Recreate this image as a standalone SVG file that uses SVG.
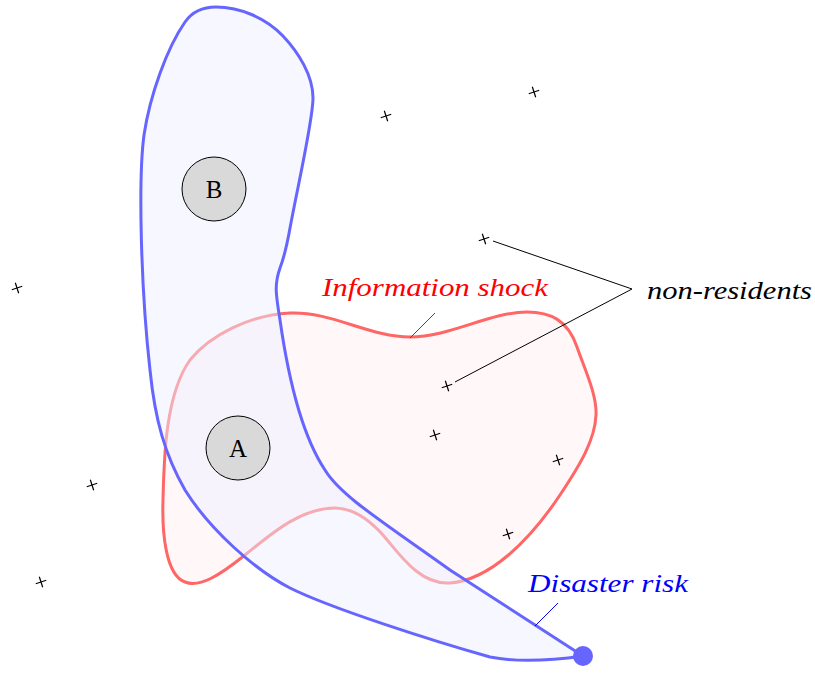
<svg xmlns="http://www.w3.org/2000/svg" width="815" height="673" viewBox="0 0 815 673">
<style>
.lbl{font-family:"Liberation Serif","DejaVu Serif",serif;font-style:italic;font-size:25px}
.nd{font-family:"Liberation Serif","DejaVu Serif",serif;font-size:25px;text-anchor:middle}
.cr line{stroke:#000;stroke-width:1.2}
.ptr{fill:none;stroke-width:1}
</style>
<defs>
<g id="x" class="cr"><g transform="rotate(-18)"><line x1="-5.5" y1="0" x2="5.5" y2="0"/><line x1="0" y1="-5.5" x2="0" y2="5.5"/></g></g>
</defs>
<rect width="815" height="673" fill="#fff"/>
<g id="information-shock">
<path d="M 190 360 C 210 335, 250 315, 290 313 C 330 311, 370 337, 410 337 C 450 337, 490 312, 527 312 C 550 312, 568 320, 577 347 C 585 370, 597 395, 596 415 C 595 440, 580 465, 560 495 C 530 540, 490 580, 450 583 C 420 585, 400 555, 383 535 C 365 515, 350 508, 335 508 C 300 508, 270 535, 245 555 C 220 575, 200 588, 185 582 C 165 575, 162 530, 163 500 C 164 460, 165 395, 190 360 Z" fill="#fff7f8" stroke="#ff6666" stroke-width="3"/>
</g>
<g id="disaster-risk">
<path d="M 583 656 L 450 570 C 380 520, 340 495, 325 470 C 305 440, 290 390, 280 320 C 276 295, 274 285, 280 268 C 285 255, 287 245, 290 228 C 298 185, 313 120, 313 98 C 313 75, 298 52, 283 36 C 266 18, 240 7, 216 7 C 202 7, 192 12, 185 22 C 167 48, 150 95, 144 135 C 138 180, 141 290, 150 370 C 155 420, 165 455, 185 490 C 210 530, 255 570, 290 588 C 330 608, 430 640, 490 657 C 520 663, 555 660, 583 656 Z" fill="#eef0ff" fill-opacity="0.5" stroke="#6666ff" stroke-width="3"/>
<circle cx="583" cy="656" r="10" fill="#6666ff"/>
</g>
<g id="node-B">
<circle cx="214" cy="189" r="32" fill="#d9d9d9" stroke="#000" stroke-width="1"/>
<text class="nd" x="214" y="198">B</text>
</g>
<g id="node-A">
<circle cx="238" cy="448" r="32" fill="#d9d9d9" stroke="#000" stroke-width="1"/>
<text class="nd" x="238" y="457">A</text>
</g>
<g id="crosses">
<use href="#x" x="386" y="116"/>
<use href="#x" x="534" y="92"/>
<use href="#x" x="484" y="239"/>
<use href="#x" x="17" y="288"/>
<use href="#x" x="447" y="386"/>
<use href="#x" x="435" y="435"/>
<use href="#x" x="558" y="460"/>
<use href="#x" x="92" y="485"/>
<use href="#x" x="508" y="534"/>
<use href="#x" x="41" y="582"/>
</g>
<g id="connectors">
<line class="ptr" x1="410" y1="338" x2="435" y2="313" stroke="#ff0000"/>
<line class="ptr" x1="535" y1="626" x2="558" y2="603" stroke="#0000ff"/>
<polyline class="ptr" points="493,241 632,289 455,382" stroke="#000"/>
</g>
<g id="labels">
<text class="lbl" x="322" y="296" fill="#ff0000" textLength="226" lengthAdjust="spacingAndGlyphs">Information shock</text>
<text class="lbl" x="647" y="299" fill="#000" textLength="165" lengthAdjust="spacingAndGlyphs">non-residents</text>
<text class="lbl" x="528" y="592" fill="#0000ff" textLength="160" lengthAdjust="spacingAndGlyphs">Disaster risk</text>
</g>
</svg>
